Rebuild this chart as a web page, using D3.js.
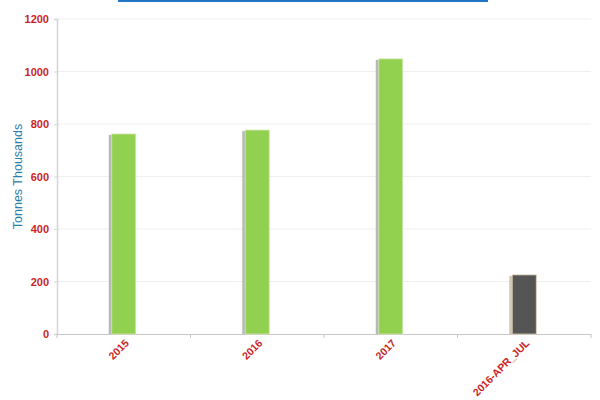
<!DOCTYPE html>
<html>
<head>
<meta charset="utf-8">
<script src="https://cdn.jsdelivr.net/npm/d3@7"></script>
<style>
  body { margin: 0; background: #fff; }
  svg { display: block; font-family: Arial, "Liberation Sans", sans-serif; }
</style>
</head>
<body>
<div id="main"></div>
<script>
// ---------------- data -----------------//
let categories = ['2015', '2016', '2017', '2016-APR_JUL'];
let values = [762, 777, 1048, 225];
let barColors = ['#92d050', '#92d050', '#92d050', '#555555'];
let yTicks = [0, 200, 400, 600, 800, 1000, 1200];
let yLabel = 'Tonnes Thousands';

// ---------------- layout -----------------//
let width = 600;
let height = 400;
let margin = {top: 19, right: 9, bottom: 66, left: 57};

let svg = d3.select("#main")
  .append("svg")
  .attr("width", width)
  .attr("height", height);

let x = d3.scaleBand()
  .domain(categories)
  .range([margin.left, width - margin.right]);

let y = d3.scaleLinear()
  .domain([0, 1200])
  .range([height - margin.bottom, margin.top]);

// title underline (title text itself is cropped out of the frame)
svg.append("line")
  .attr("x1", 118).attr("x2", 488)
  .attr("y1", 1).attr("y2", 1)
  .attr("stroke", "#1f74c4")
  .attr("stroke-width", 2);

// gridlines
svg.append("g")
  .selectAll("line")
  .data(yTicks.slice(1))
  .join("line")
  .attr("x1", margin.left)
  .attr("x2", width - margin.right)
  .attr("y1", d => y(d))
  .attr("y2", d => y(d))
  .attr("stroke", "#efefef");

// y axis
let yAxis = svg.append("g")
  .attr("transform", `translate(${margin.left},0)`)
  .call(d3.axisLeft(y).tickValues(yTicks).tickFormat(d3.format("d")).tickSize(3).tickPadding(5));
yAxis.select(".domain").attr("stroke", "#d4d4d4").attr("stroke-width", 1.5);
yAxis.selectAll(".tick line").attr("stroke", "#d4d4d4");
yAxis.selectAll("text")
  .attr("fill", "#cc1f1f")
  .attr("font-weight", "bold")
  .attr("font-size", 11);

// x axis
let xAxis = svg.append("g")
  .attr("transform", `translate(0,${height - margin.bottom})`)
  .call(d3.axisBottom(x).tickSize(0).tickPadding(6));
xAxis.select(".domain").attr("stroke", "#c8c8c8").attr("stroke-width", 1.2);
xAxis.selectAll("text")
  .attr("fill", "#cc1f1f")
  .attr("font-weight", "bold")
  .attr("font-size", 10.5)
  .attr("text-anchor", "end")
  .attr("dy", "0.35em")
  .attr("transform", "translate(-1,3) rotate(-45)");

// band boundary ticks
xAxis.append("g")
  .selectAll("line")
  .data(categories.map(c => x(c)).concat([x.range()[1]]))
  .join("line")
  .attr("x1", d => d).attr("x2", d => d)
  .attr("y1", 0).attr("y2", 4)
  .attr("stroke", "#c8c8c8");

// y label
svg.append("text")
  .attr("transform", `translate(22,${(margin.top + height - margin.bottom) / 2}) rotate(-90)`)
  .attr("text-anchor", "middle")
  .attr("fill", "#2a7fab")
  .attr("font-size", 12.5)
  .text(yLabel);

// bars
let barWidth = 24;
let bars = svg.append("g")
  .selectAll("g")
  .data(categories.map((c, i) => ({cat: c, value: values[i], color: barColors[i]})))
  .join("g");

// shadow
bars.append("rect")
  .attr("x", d => x(d.cat) + x.bandwidth() / 2 - barWidth / 2 - 3)
  .attr("y", d => y(d.value) + 1)
  .attr("width", barWidth)
  .attr("height", d => y(0) - y(d.value) - 1)
  .attr("fill", d => d.color === '#555555' ? "#c9b9a0" : "#a8a8a8")
  .attr("opacity", 0.8);

bars.append("rect")
  .attr("x", d => x(d.cat) + x.bandwidth() / 2 - barWidth / 2)
  .attr("y", d => y(d.value))
  .attr("width", barWidth)
  .attr("height", d => y(0) - y(d.value))
  .attr("fill", d => d.color)
  .attr("stroke", d => d.color === '#555555' ? "#d8c9ae" : "#d6e8b0")
  .attr("stroke-width", 0.8);
</script>
</body>
</html>
